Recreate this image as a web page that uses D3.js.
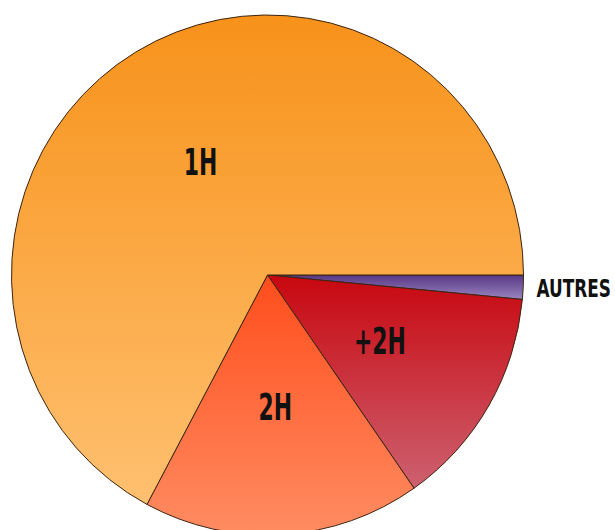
<!DOCTYPE html>
<html><head><meta charset="utf-8">
<script src="https://cdn.jsdelivr.net/npm/d3@7"></script>
<style>html,body{margin:0;padding:0;background:#fff;overflow:hidden}</style>
</head><body>
<svg id="chart" width="615" height="530"></svg>
<script>
const categories = ["AUTRES", "+2H", "2H", "1H"];
const values = [1.5, 13.8, 17.5, 67.2];
const gradTop = ["#573785", "#c8070f", "#ff4d1c", "#f7921a"];
const gradBottom = ["#9a86c0", "#cd6170", "#ff8c62", "#ffc070"];

const svg = d3.select("#chart");
const W = 615, H = 530;
svg.append("rect").attr("width", W).attr("height", H).attr("fill", "#fff");

const cx = 267.5, cy = 275, rx = 256, ry = 260;
const defs = svg.append("defs");
categories.forEach((c, i) => {
  const g = defs.append("linearGradient").attr("id", "g" + i)
    .attr("x1", 0).attr("y1", 0).attr("x2", 0).attr("y2", 1);
  g.append("stop").attr("offset", "0%").attr("stop-color", gradTop[i]);
  g.append("stop").attr("offset", "100%").attr("stop-color", gradBottom[i]);
});

const pie = d3.pie().sort(null).value(d => d)
  .startAngle(Math.PI / 2).endAngle(Math.PI / 2 + 2 * Math.PI);
const arcs = pie(values);
const arc = d3.arc().innerRadius(0).outerRadius(rx);

const g = svg.append("g").attr("transform", `translate(${cx},${cy}) scale(1,${ry / rx})`);
g.selectAll("path").data(arcs).join("path")
  .attr("d", arc)
  .attr("fill", (d, i) => `url(#g${i})`)
  .attr("stroke", "#3b2412")
  .attr("stroke-width", 1)
  .attr("vector-effect", "non-scaling-stroke");

const font = "'DejaVu Sans Condensed', 'Liberation Sans Narrow', sans-serif";
arcs.forEach((d, i) => {
  let x, y, anchor, size, sx;
  if (categories[i] === "AUTRES") {
    x = cx + rx + 13; y = 297; anchor = "start"; size = 25; sx = 0.75;
  } else {
    const [px, py] = d3.arc().innerRadius(0).outerRadius(rx + 4).centroid(d);
    x = cx + px; y = cy + py * ry / rx + 13; anchor = "middle"; size = 38; sx = 0.64;
  }
  svg.append("text")
    .attr("transform", `translate(${x},${y}) scale(${sx},1)`)
    .attr("text-anchor", anchor)
    .attr("font-family", font)
    .attr("font-weight", "bold")
    .attr("font-size", size)
    .attr("fill", "#111")
    .text(categories[i]);
});
</script>
</body></html>
